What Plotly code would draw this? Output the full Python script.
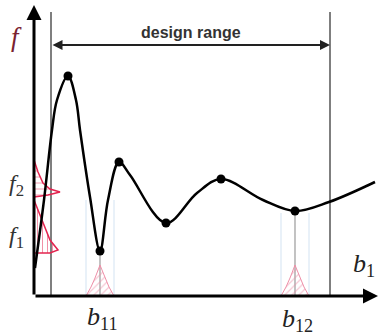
import plotly.graph_objects as go

# ---- data (b along horizontal axis, f along vertical axis) ----
curve_b = [1, 10, 18, 23, 34, 42, 46, 56, 66, 74, 85, 96, 132, 163, 187, 229, 261, 295, 341]
curve_f = [28, 96, 166, 196, 220, 196, 166, 99, 45, 96, 134, 121, 73, 103, 117, 96, 85, 94, 114]

extrema_b = [34, 66, 85, 132, 187, 261]
extrema_f = [220, 45, 134, 73, 117, 85]

design_lo = 17
design_hi = 296
design_top = 284
design_arrow_f = 251

b11 = 66
b12 = 261
b11_f = 45
b12_f = 85
dist_offset = [-14, -9, -5, -2, 0, 2, 5, 9, 14]
dist_height = [0, 9, 18, 26, 31, 26, 18, 9, 0]
band_half = 14
band_top = [96, 83]

f2_dist_b = [0, 4, 9, 16, 26, 14, 0]
f2_dist_f = [136, 124, 113, 107, 104, 101, 99]
f1_dist_b = [0, 6, 12, 16, 24, 16, 0]
f1_dist_f = [96, 81, 66, 56, 46, 43, 43]

axis_b_max = 344
axis_f_max = 291

fig = go.Figure()

red = "#e3244f"
pink = "#ee8fa8"
blue = "#d3e3f2"

# light blue tolerance bands
for c, top in zip([b11, b12], band_top):
    for s in (-1, 1):
        fig.add_trace(go.Scatter(x=[c + s * band_half] * 2, y=[0, top], mode="lines",
                                 line=dict(color=blue, width=1), hoverinfo="skip"))

# gray drop lines
for c, fv in zip([b11, b12], [b11_f, b12_f]):
    fig.add_trace(go.Scatter(x=[c, c], y=[0, fv], mode="lines",
                             line=dict(color="#9a9a9a", width=1.2), hoverinfo="skip"))

# hatched distributions on b axis
for c in [b11, b12]:
    fig.add_trace(go.Scatter(x=[c + o for o in dist_offset], y=dist_height, mode="lines",
                             fill="toself", fillcolor="rgba(255,255,255,0)",
                             fillpattern=dict(shape="/", fgcolor=pink, size=5, solidity=0.25),
                             line=dict(color=pink, width=1), hoverinfo="skip"))

# design range vertical lines
for b in [design_lo, design_hi]:
    fig.add_trace(go.Scatter(x=[b, b], y=[0, design_top], mode="lines",
                             line=dict(color="#555555", width=1.5), hoverinfo="skip"))

# f distributions on f axis
fig.add_trace(go.Scatter(x=f2_dist_b, y=f2_dist_f, mode="lines", fill="toself",
                         fillcolor="rgba(255,255,255,0)",
                         fillpattern=dict(shape="-", fgcolor=red, size=6, solidity=0.15),
                         line=dict(color=red, width=1.5), hoverinfo="skip"))
fig.add_trace(go.Scatter(x=f1_dist_b, y=f1_dist_f, mode="lines", fill="toself",
                         fillcolor="rgba(255,255,255,0)",
                         fillpattern=dict(shape="|", fgcolor=red, size=5, solidity=0.2),
                         line=dict(color=red, width=1.5), hoverinfo="skip"))

# main curve
fig.add_trace(go.Scatter(x=curve_b, y=curve_f, mode="lines",
                         line=dict(color="black", width=2.5, shape="spline", smoothing=1.0),
                         hoverinfo="skip"))
fig.add_trace(go.Scatter(x=extrema_b, y=extrema_f, mode="markers",
                         marker=dict(color="black", size=9), hoverinfo="skip"))

# axes with arrows
fig.add_annotation(x=0, y=axis_f_max, ax=0, ay=0, xref="x", yref="y", axref="x", ayref="y",
                   showarrow=True, arrowhead=2, arrowsize=1, arrowwidth=3, arrowcolor="black", text="")
fig.add_annotation(x=axis_b_max, y=0, ax=0, ay=0, xref="x", yref="y", axref="x", ayref="y",
                   showarrow=True, arrowhead=2, arrowsize=1, arrowwidth=3, arrowcolor="black", text="")
# design range arrow
fig.add_annotation(x=design_hi, y=design_arrow_f, ax=design_lo, ay=design_arrow_f,
                   xref="x", yref="y", axref="x", ayref="y", showarrow=True,
                   arrowhead=2, startarrowhead=2, arrowside="end+start", arrowsize=1,
                   arrowwidth=2, arrowcolor="#222222", text="")

serif = "Liberation Serif"
fig.add_annotation(x=157, y=264, text="<b>design range</b>", showarrow=False,
                   font=dict(family="Liberation Sans", size=16, color="#333333"))
fig.add_annotation(x=-18, y=259, text="<i>f</i>", showarrow=False,
                   font=dict(family=serif, size=27, color="#7a2230"))
fig.add_annotation(x=-18, y=111, text="<i>f</i><sub>2</sub>", showarrow=False,
                   font=dict(family=serif, size=24, color="#333333"))
fig.add_annotation(x=-18, y=59, text="<i>f</i><sub>1</sub>", showarrow=False,
                   font=dict(family=serif, size=24, color="#333333"))
fig.add_annotation(x=330, y=31, text="<i>b</i><sub>1</sub>", showarrow=False,
                   font=dict(family=serif, size=26, color="#222222"))
fig.add_annotation(x=68, y=-22, text="<i>b</i><sub>11</sub>", showarrow=False,
                   font=dict(family=serif, size=26, color="#222222"))
fig.add_annotation(x=263, y=-24, text="<i>b</i><sub>12</sub>", showarrow=False,
                   font=dict(family=serif, size=26, color="#222222"))

fig.update_layout(width=381, height=334, margin=dict(l=0, r=0, t=0, b=0),
                  paper_bgcolor="white", plot_bgcolor="white", showlegend=False,
                  xaxis=dict(range=[-34, 347], visible=False, fixedrange=True),
                  yaxis=dict(range=[-38, 296], visible=False, fixedrange=True))

fig.write_html("out.html", config={"displayModeBar": False},
               post_script="document.body.style.margin='0';document.body.style.overflow='hidden';")
